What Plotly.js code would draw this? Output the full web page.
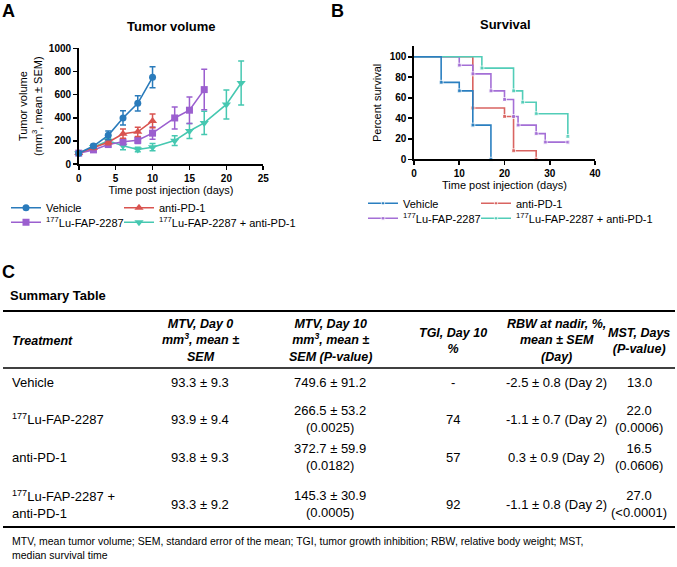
<!DOCTYPE html>
<html><head><meta charset="utf-8">
<script src="https://cdn.plot.ly/plotly-3.0.1.min.js"></script>
<style>html,body{margin:0;padding:0;background:#fff}#chart{width:677px;height:567px}</style>
</head><body><div id="chart"></div>
<script>
// ---------- Panel A: tumor volume (mean ± SEM) ----------
const seriesNames = ['Vehicle', 'anti-PD-1', '<sup>177</sup>Lu-FAP-2287', '<sup>177</sup>Lu-FAP-2287 + anti-PD-1'];

const tvVehicleDays = [0, 2, 4, 6, 8, 10];
const tvVehicleMean = [93, 155, 248, 398, 524, 749.6];
const tvVehicleSem  = [9, 15, 38, 62, 66, 91.2];

const tvPD1Days = [0, 2, 4, 6, 8, 10];
const tvPD1Mean = [94, 140, 188, 262, 278, 372.7];
const tvPD1Sem  = [9, 14, 22, 40, 40, 59.9];

const tvLuDays = [0, 2, 4, 6, 8, 10, 13, 15, 17];
const tvLuMean = [94, 122, 168, 192, 205, 266.5, 398, 465, 643];
const tvLuSem  = [9, 12, 18, 25, 28, 53.2, 95, 115, 175];

const tvComboDays = [0, 2, 4, 6, 8, 10, 13, 15, 17, 20, 22];
const tvComboMean = [93, 148, 200, 157, 125, 145.3, 202, 285, 355, 515, 700];
const tvComboSem  = [9, 16, 20, 33, 20, 30.9, 43, 65, 100, 125, 190];

// ---------- Panel B: survival (%) ----------
const svVehicleDays = [0, 6, 10, 13, 17];
const svVehiclePct  = [100, 75, 66.7, 33.3, 0];
const svPD1Days = [0, 13, 20, 22, 27];
const svPD1Pct  = [100, 50, 41.7, 8.3, 0];
const svLuDays = [0, 10, 13, 17, 20, 22, 23, 27, 29, 34];
const svLuPct  = [100, 91.7, 83.3, 66.7, 58.3, 41.7, 33.3, 25, 16.7, 16.7];
const svComboDays = [0, 15, 22, 24, 27, 34];
const svComboPct  = [100, 88.9, 66.7, 55.6, 44.4, 22.2];

// ---------- Panel C: summary table ----------
const tableHeaders = ['Treatment', 'MTV, Day 0<br>mm<sup>3</sup>, mean ±<br>SEM', 'MTV, Day 10<br>mm<sup>3</sup>, mean ±<br>SEM (P-value)', 'TGI, Day 10<br>%', 'RBW at nadir, %,<br>mean ± SEM<br>(Day)', 'MST, Days<br>(P-value)'];
const tableTreatments = ['Vehicle', '<sup>177</sup>Lu-FAP-2287', 'anti-PD-1', '<sup>177</sup>Lu-FAP-2287 +<br>anti-PD-1'];
const tableMtvDay0 = ['93.3 ± 9.3', '93.9 ± 9.4', '93.8 ± 9.3', '93.3 ± 9.2'];
const tableMtvDay10 = ['749.6 ± 91.2', '266.5 ± 53.2<br>(0.0025)', '372.7 ± 59.9<br>(0.0182)', '145.3 ± 30.9<br>(0.0005)'];
const tableTgi = ['-', '74', '57', '92'];
const tableRbw = ['-2.5 ± 0.8 (Day 2)', '-1.1 ± 0.7 (Day 2)', '0.3 ± 0.9 (Day 2)', '-1.1 ± 0.8 (Day 2)'];
const tableMst = ['13.0', '22.0<br>(0.0006)', '16.5<br>(0.0606)', '27.0<br>(&lt;0.0001)'];
const footnote = 'MTV, mean tumor volume; SEM, standard error of the mean; TGI, tumor growth inhibition; RBW, relative body weight; MST,<br>median survival time';

// ---------- styling ----------
const W = 677, H = 567;
const px = p => p / W;
const py = p => 1 - p / H;
const FONT = 'Arial, "Liberation Sans", sans-serif';
const colA = ['#2a7bbb', '#d9534f', '#9b5fcf', '#46c8b1'];
const colB = ['#2a7fc0', '#d96461', '#a46fd6', '#52cdb8'];
const symA = ['circle', 'triangle-up', 'square', 'triangle-down'];
const sizeA = [7, 8, 7, 8];
// legend column widths: first-column entries fixed, second-column entries wide enough for text
const legW = [68, 140, 68, 140];

function tvTrace(i, x, y, e, legend, rank) {
  return {
    type: 'scatter', mode: 'lines+markers', x: x, y: y, name: seriesNames[i],
    xaxis: 'x', yaxis: 'y', legend: legend, legendrank: rank, legendwidth: legW[i], cliponaxis: false,
    line: {color: colA[i], width: 1.6},
    marker: {color: colA[i], symbol: symA[i], size: sizeA[i]},
    error_y: {type: 'data', array: e, visible: true, color: colA[i], thickness: 1.5, width: 3}
  };
}
function svTrace(i, x, y, legend, rank) {
  return {
    type: 'scatter', mode: 'lines+markers', x: x, y: y, name: seriesNames[i],
    xaxis: 'x2', yaxis: 'y2', legend: legend, legendrank: rank, legendwidth: legW[i], cliponaxis: false,
    line: {color: colB[i], width: 1.6, shape: 'hv'},
    marker: {color: colB[i], symbol: 'square', size: x.map((v, k) => k === 0 ? 0 : 4)}
  };
}

const data = [
  tvTrace(3, tvComboDays, tvComboMean, tvComboSem, 'legend2', 4),
  tvTrace(2, tvLuDays, tvLuMean, tvLuSem, 'legend2', 3),
  tvTrace(1, tvPD1Days, tvPD1Mean, tvPD1Sem, 'legend', 2),
  tvTrace(0, tvVehicleDays, tvVehicleMean, tvVehicleSem, 'legend', 1),
  svTrace(1, svPD1Days, svPD1Pct, 'legend3', 2),
  svTrace(2, svLuDays, svLuPct, 'legend4', 3),
  svTrace(3, svComboDays, svComboPct, 'legend4', 4),
  svTrace(0, svVehicleDays, svVehiclePct, 'legend3', 1)
];

const axisCommon = {
  showline: true, linecolor: '#000', linewidth: 1.6, ticks: 'outside', ticklen: 4, tickwidth: 1.6,
  tickcolor: '#000', showgrid: false, zeroline: false, fixedrange: true,
  tickfont: {family: FONT, size: 10, weight: 'bold', color: '#000'}
};
const legendCommon = {
  orientation: 'h', xanchor: 'left', yanchor: 'middle', bgcolor: 'rgba(0,0,0,0)',
  font: {family: FONT, size: 11, color: '#000'}, entrywidthmode: 'pixels',
  traceorder: 'normal', itemclick: false
};

const annotations = [];
function ann(text, x, y, opts) {
  annotations.push(Object.assign({
    text: text, xref: 'paper', yref: 'paper', x: px(x), y: py(y), showarrow: false,
    xanchor: 'center', yanchor: 'middle', font: {family: FONT, size: 13, color: '#000'}
  }, opts || {}));
}
// panel letters & titles
ann('A', 0, 11, {xanchor: 'left', font: {family: FONT, size: 18, weight: 'bold', color: '#000'}});
ann('B', 329, 11, {xanchor: 'left', font: {family: FONT, size: 18, weight: 'bold', color: '#000'}});
ann('C', 0, 272, {xanchor: 'left', font: {family: FONT, size: 18, weight: 'bold', color: '#000'}});
ann('Tumor volume', 171, 26, {font: {family: FONT, size: 13, weight: 'bold', color: '#000'}});
ann('Survival', 505, 25, {font: {family: FONT, size: 13, weight: 'bold', color: '#000'}});
ann('Summary Table', 8, 295, {xanchor: 'left', font: {family: FONT, size: 13, weight: 'bold', color: '#000'}});

// table
const colX = [10, 200, 330, 453, 556, 639];
const headerY = 340.5;
const rowY = [382, 419, 457, 504];
tableHeaders.forEach((h, j) => {
  ann(h, colX[j], headerY, {xanchor: j === 0 ? 'left' : 'center', align: j === 0 ? 'left' : 'center',
    font: {family: FONT, size: 12.5, weight: 'bold', style: 'italic', color: '#000'}});
});
const columns = [tableTreatments, tableMtvDay0, tableMtvDay10, tableTgi, tableRbw, tableMst];
columns.forEach((col, j) => {
  col.forEach((v, i) => {
    ann(v, colX[j], rowY[i], {xanchor: j === 0 ? 'left' : 'center', align: j === 0 ? 'left' : 'center'});
  });
});
ann(footnote, 10, 548, {xanchor: 'left', align: 'left', font: {family: FONT, size: 10.5, color: '#000'}});

const rule = (y, w) => ({type: 'line', xref: 'paper', yref: 'paper', x0: px(3), x1: px(675), y0: py(y), y1: py(y),
  line: {color: '#000', width: w}});

const layout = {
  width: W, height: H, margin: {l: 0, r: 0, t: 0, b: 0, autoexpand: false},
  paper_bgcolor: '#fff', plot_bgcolor: 'rgba(0,0,0,0)',
  font: {family: FONT, color: '#000'},
  showlegend: true,
  xaxis: Object.assign({}, axisCommon, {domain: [px(78.7), px(263.3)], range: [0, 25], tickvals: [0, 5, 10, 15, 20, 25],
    anchor: 'y', title: {text: 'Time post injection (days)', font: {family: FONT, size: 11, color: '#000'}, standoff: 4}}),
  yaxis: Object.assign({}, axisCommon, {domain: [py(164), py(48.3)], range: [0, 1000], tickvals: [0, 200, 400, 600, 800, 1000],
    anchor: 'x', title: {text: 'Tumor volume<br>(mm<sup>3</sup>, mean ± SEM)', font: {family: FONT, size: 11, color: '#000'}, standoff: 4}}),
  xaxis2: Object.assign({}, axisCommon, {domain: [px(414), px(595)], range: [0, 40], tickvals: [0, 10, 20, 30, 40],
    anchor: 'y2', title: {text: 'Time post injection (days)', font: {family: FONT, size: 11, color: '#000'}, standoff: 3}}),
  yaxis2: Object.assign({}, axisCommon, {domain: [py(159.3), py(159.3 - 110 * 1.026)], range: [0, 110], tickvals: [0, 20, 40, 60, 80, 100],
    anchor: 'x2', title: {text: 'Percent survival', font: {family: FONT, size: 11, color: '#000'}, standoff: 6}}),
  legend: Object.assign({}, legendCommon, {x: px(6), y: py(207.7)}),
  legend2: Object.assign({}, legendCommon, {x: px(6), y: py(222.3)}),
  legend3: Object.assign({}, legendCommon, {x: px(363), y: py(203.3)}),
  legend4: Object.assign({}, legendCommon, {x: px(363), y: py(218.3)}),
  annotations: annotations,
  shapes: [rule(311, 2), rule(368, 1.5), rule(527, 2)]
};

Plotly.newPlot('chart', data, layout, {displayModeBar: false, staticPlot: true});
</script></body></html>
